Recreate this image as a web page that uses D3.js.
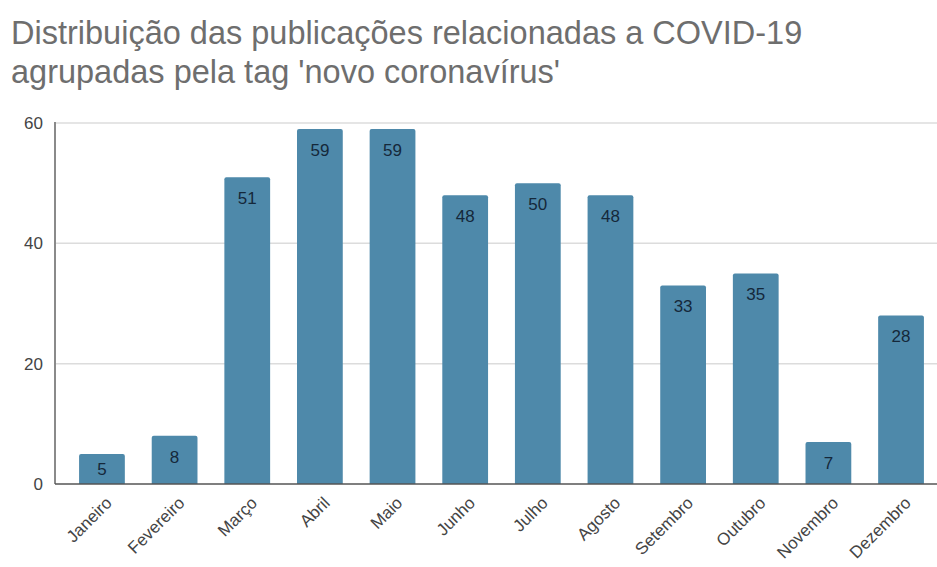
<!DOCTYPE html>
<html>
<head>
<meta charset="utf-8">
<script src="https://cdn.jsdelivr.net/npm/d3@7"></script>
<style>
  body { margin: 0; background: #fff; }
  svg { display: block; font-family: "Liberation Sans", Arial, sans-serif; }
</style>
</head>
<body>
<svg id="chart"></svg>
<script>
const months = ["Janeiro", "Fevereiro", "Março", "Abril", "Maio", "Junho",
  "Julho", "Agosto", "Setembro", "Outubro", "Novembro", "Dezembro"];
const counts = [5, 8, 51, 59, 59, 48, 50, 48, 33, 35, 7, 28];
const yTicks = [0, 20, 40, 60];
const titleLines = [
  "Distribuição das publicações relacionadas a COVID-19",
  "agrupadas pela tag 'novo coronavírus'"
];

const width = 937, height = 567;
const axisX = 55;

const svg = d3.select("#chart")
  .attr("width", width)
  .attr("height", height);

svg.append("g")
  .selectAll("text")
  .data(titleLines)
  .enter()
  .append("text")
  .attr("x", 11)
  .attr("y", (d, i) => 44 + i * 39)
  .attr("font-size", "32.5px")
  .attr("fill", "#6e6e6e")
  .text(d => d);

const x = d3.scaleBand()
  .domain(months)
  .range([66, 937])
  .paddingInner(0.37)
  .paddingOuter(0.18);

const y = d3.scaleLinear()
  .domain([0, 60])
  .range([484, 123]);

// gridlines
svg.append("g")
  .selectAll("line")
  .data(yTicks.filter(t => t > 0))
  .enter()
  .append("line")
  .attr("x1", axisX)
  .attr("x2", width)
  .attr("y1", d => y(d))
  .attr("y2", d => y(d))
  .attr("stroke", "#dcdcdc")
  .attr("stroke-width", 1.5);

// y tick labels
svg.append("g")
  .selectAll("text")
  .data(yTicks)
  .enter()
  .append("text")
  .attr("x", 43)
  .attr("y", d => y(d))
  .attr("dy", "0.35em")
  .attr("text-anchor", "end")
  .attr("font-size", "17px")
  .attr("fill", "#444")
  .text(d => d);

// bars
svg.append("g")
  .selectAll("path")
  .data(counts)
  .enter()
  .append("path")
  .attr("fill", "#4e89aa")
  .attr("d", (d, i) => {
    const x0 = x(months[i]), w = x.bandwidth();
    const top = y(d), bottom = y(0), r = 2;
    return `M${x0},${bottom}V${top + r}Q${x0},${top} ${x0 + r},${top}` +
      `H${x0 + w - r}Q${x0 + w},${top} ${x0 + w},${top + r}V${bottom}Z`;
  });

// value labels
svg.append("g")
  .selectAll("text")
  .data(counts)
  .enter()
  .append("text")
  .attr("x", (d, i) => x(months[i]) + x.bandwidth() / 2)
  .attr("y", d => Math.min(y(d) + 21, (y(d) + y(0)) / 2))
  .attr("dy", "0.35em")
  .attr("text-anchor", "middle")
  .attr("font-size", "17px")
  .attr("fill", "#15283a")
  .text(d => d);

// axes lines
svg.append("line")
  .attr("x1", axisX).attr("x2", axisX)
  .attr("y1", y(60) - 1).attr("y2", y(0))
  .attr("stroke", "#8a8a8a")
  .attr("stroke-width", 2);

svg.append("line")
  .attr("x1", axisX).attr("x2", width)
  .attr("y1", y(0)).attr("y2", y(0))
  .attr("stroke", "#555")
  .attr("stroke-width", 1.5);

// month labels, rotated
svg.append("g")
  .selectAll("text")
  .data(months)
  .enter()
  .append("text")
  .attr("transform", d => {
    const cx = x(d) + x.bandwidth() / 2 + 11;
    return `translate(${cx},${y(0) + 20}) rotate(-45)`;
  })
  .attr("text-anchor", "end")
  .attr("font-size", "17px")
  .attr("fill", "#444")
  .text(d => d);
</script>
</body>
</html>
